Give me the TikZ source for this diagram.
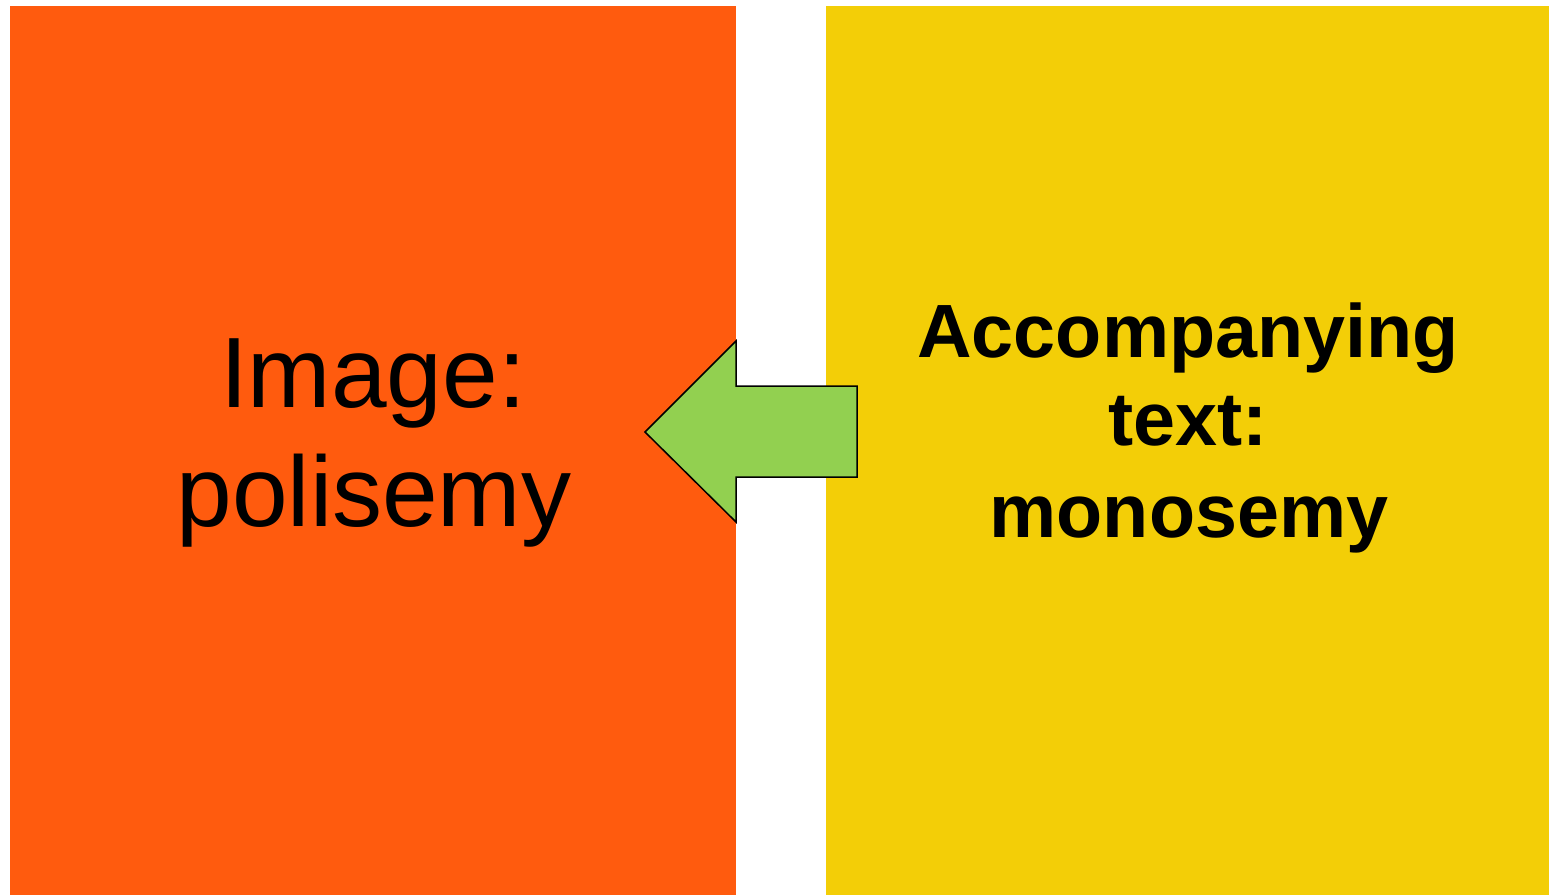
\documentclass[tikz,border=0pt]{standalone}
\usepackage{fontspec}
\setmainfont{Liberation Sans}
\definecolor{boxorange}{HTML}{FF5B0E}
\definecolor{boxyellow}{HTML}{F3CE07}
\definecolor{arrowgreen}{HTML}{92D050}
\begin{document}
\begin{tikzpicture}[x=1pt,y=-1pt,
  bigtext/.style={anchor=base,inner sep=0pt,font=\fontsize{100}{119}\selectfont},
  boldtext/.style={anchor=base,inner sep=0pt,font=\fontsize{75.5}{90}\selectfont\bfseries}]
\useasboundingbox (0,0) rectangle (1549,895);
\fill[white] (0,0) rectangle (1549,895);
\fill[boxorange] (10,6) rectangle (736,895);
\fill[boxyellow] (826,6) rectangle (1549,895);
\draw[black,line width=1.5pt,fill=arrowgreen,line join=miter]
  (645,432) -- (736,341) -- (736,386) -- (857,386) -- (857,477) -- (736,477) -- (736,522) -- cycle;
\node[bigtext] (l1) at (373,407) {Image:};
\node[bigtext] (l2) at (374,526) {polisemy};
\node[boldtext] (r1) at (1188,357) {Accompanying};
\node[boldtext] (r2) at (1188,445) {text:};
\node[boldtext] (r3) at (1189,537) {monosemy};
\end{tikzpicture}
\end{document}
